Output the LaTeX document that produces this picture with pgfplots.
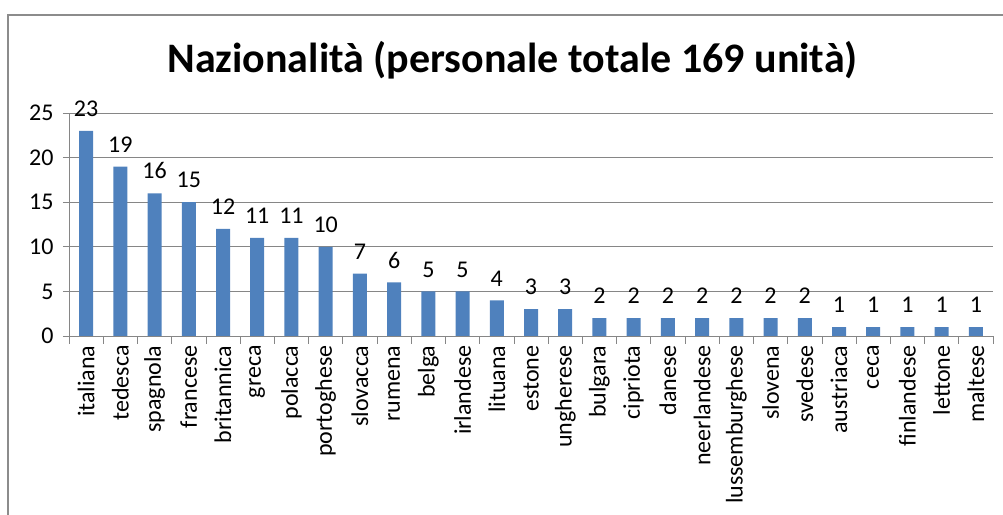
\documentclass[border=0pt]{standalone}
\usepackage{pgfplots}
\pgfplotsset{compat=1.18}
\usepackage{fontspec}
\setmainfont{Carlito}
\definecolor{barblue}{HTML}{4F81BD}
\definecolor{gridgray}{HTML}{868686}
\definecolor{framegray}{HTML}{8C8C8C}
\begin{document}
\begin{tikzpicture}[x=1bp,y=1bp]
\useasboundingbox (-69,-179) rectangle (934,336);
\draw[framegray, line width=2bp] (-61,-185) -- (-61,321) -- (940,321);
\node[font=\fontsize{42bp}{48bp}\selectfont\bfseries, anchor=base, inner sep=0pt] at (443.5,263) {Nazionalità (personale totale 169 unità)};
\begin{axis}[
 at={(0,0)}, anchor=south west,
 scale only axis, width=924bp, height=223bp,
 xmin=-0.5, xmax=26.5, ymin=0, ymax=25,
 ybar, bar width=14bp,
 axis x line*=bottom, axis y line*=left,
 axis line style={gridgray, line width=0.75bp},
 ymajorgrids, grid style={gridgray, line width=0.75bp},
 ytick={0,5,...,25},
 xtick={0,...,26},
 xticklabels={italiana,tedesca,spagnola,francese,britannica,greca,polacca,portoghese,slovacca,rumena,belga,irlandese,lituana,estone,ungherese,bulgara,cipriota,danese,neerlandese,lussemburghese,slovena,svedese,austriaca,ceca,finlandese,lettone,maltese},
 major x tick style={draw=none},
 minor xtick={-0.5,0.5,...,26.5},
 minor tick length=8bp,
 major tick length=6bp,
 tick align=outside,
 y tick style={gridgray, line width=0.75bp},
 minor x tick style={gridgray, line width=0.75bp},
 tick label style={font=\fontsize{24bp}{28bp}\selectfont, text=black},
 /pgf/number format/assume math mode=true,
 yticklabel style={xshift=-6bp},
 xticklabel style={rotate=90, anchor=east},
 nodes near coords,
 every node near coord/.append style={font=\fontsize{24bp}{28bp}\selectfont, anchor=south, inner sep=0pt, yshift=14bp, text=black},
 clip=false,
]
\addplot[fill=barblue, draw=none] table[x=x, y=y] {
x y
0 23
1 19
2 16
3 15
4 12
5 11
6 11
7 10
8 7
9 6
10 5
11 5
12 4
13 3
14 3
15 2
16 2
17 2
18 2
19 2
20 2
21 2
22 1
23 1
24 1
25 1
26 1
};
\end{axis}
\end{tikzpicture}
\end{document}
